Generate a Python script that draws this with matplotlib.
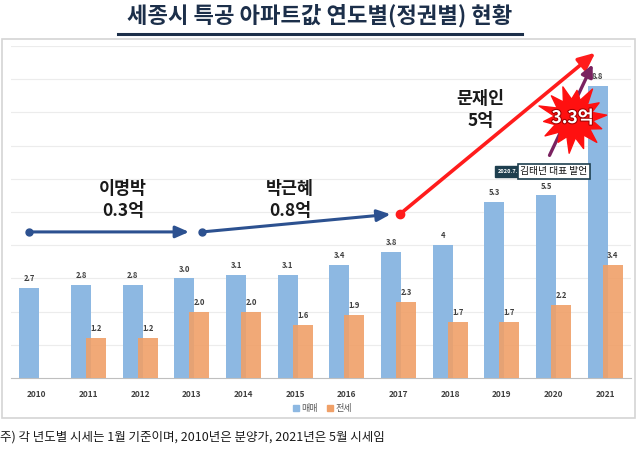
import numpy as np
import matplotlib
matplotlib.use("Agg")
import matplotlib.pyplot as plt
from matplotlib.patches import Rectangle
from matplotlib.lines import Line2D
from matplotlib.path import Path
import matplotlib.patheffects as pe

plt.rcParams['font.family'] = ['Noto Sans CJK KR', 'DejaVu Sans']

# data
years = ["2010", "2011", "2012", "2013", "2014", "2015",
         "2016", "2017", "2018", "2019", "2020", "2021"]
sale = [2.7, 2.8, 2.8, 3.0, 3.1, 3.1, 3.4, 3.8, 4.0, 5.3, 5.5, 8.8]
sale_labels = ["2.7", "2.8", "2.8", "3.0", "3.1", "3.1", "3.4", "3.8", "4", "5.3", "5.5", "8.8"]
jeonse = [np.nan, 1.2, 1.2, 2.0, 2.0, 1.6, 1.9, 2.3, 1.7, 1.7, 2.2, 3.4]
jeonse_labels = ["", "1.2", "1.2", "2.0", "2.0", "1.6", "1.9", "2.3", "1.7", "1.7", "2.2", "3.4"]

blue = '#8db8e2'
orange = '#f0a068'
label_col = '#404040'

fig = plt.figure(figsize=(6.39, 4.53), dpi=100)
fig.patch.set_facecolor('white')

# outer chart frame
fig.add_artist(Rectangle((2 / 639, 1 - 418 / 453), 633 / 639, 379 / 453,
                         transform=fig.transFigure, fill=False,
                         edgecolor='#d4d4d4', lw=1.2, zorder=0))

ax = fig.add_axes([11 / 639, 1 - 378 / 453, 620 / 639, 332 / 453])
x = np.arange(len(years))
w = 0.39
off = 0.145
ax.bar(x - off, sale, w, color=blue, zorder=2)
ax.bar(x + off, jeonse, w, color=orange, alpha=0.9, zorder=3)

for i in range(len(years)):
    ax.annotate(sale_labels[i], (x[i] - off, sale[i]), xytext=(0, 3.5),
                textcoords='offset points', ha='center', va='bottom',
                fontsize=5.5, fontweight='bold', color=label_col)
    if jeonse_labels[i]:
        ax.annotate(jeonse_labels[i], (x[i] + off, jeonse[i]), xytext=(0, 3.5),
                    textcoords='offset points', ha='center', va='bottom',
                    fontsize=5.5, fontweight='bold', color=label_col)

ax.set_xlim(-0.5, 11.5)
ax.set_ylim(0, 10)
ax.set_yticks(np.arange(1, 11))
ax.yaxis.grid(True, color='#ececec', lw=0.8, zorder=0)
ax.set_axisbelow(True)
ax.tick_params(left=False, labelleft=False, bottom=False, pad=5)
ax.set_xticks(x)
ax.set_xticklabels(years, fontsize=6, fontweight='bold', color=label_col)
for s in ['top', 'right', 'left']:
    ax.spines[s].set_visible(False)
ax.spines['bottom'].set_color('#bfbfbf')

# regime arrows
navy = '#2c5190'
ax.annotate('', xy=(3.0, 4.40), xytext=(-0.155, 4.40),
            arrowprops=dict(arrowstyle='-|>,head_length=0.8,head_width=0.35', color=navy, lw=2.2), zorder=5)
ax.plot([-0.155], [4.40], 'o', color=navy, ms=5, zorder=5)
ax.annotate('', xy=(6.9, 4.94), xytext=(3.2, 4.40),
            arrowprops=dict(arrowstyle='-|>,head_length=0.8,head_width=0.35', color=navy, lw=2.2), zorder=5)
ax.plot([3.2], [4.40], 'o', color=navy, ms=5, zorder=5)

ax.annotate('', xy=(10.85, 9.85), xytext=(7.03, 4.94),
            arrowprops=dict(arrowstyle='-|>,head_length=1.0,head_width=0.45', color='#ff1c1c', lw=2.6), zorder=5)
ax.plot([7.03], [4.94], 'o', color='#ff1c1c', ms=6, zorder=6)

ax.annotate('', xy=(10.78, 9.52), xytext=(9.9, 6.63),
            arrowprops=dict(arrowstyle='-|>,head_length=0.7,head_width=0.35', color='#7a2260', lw=2.4), zorder=5)

ax.text(1.67, 5.36, "이명박\n0.3억", ha='center', va='center', fontsize=12.5,
        fontweight='bold', linespacing=1.3, color='#1a1a1a', zorder=6)
ax.text(4.9, 5.36, "박근혜\n0.8억", ha='center', va='center', fontsize=12.5,
        fontweight='bold', linespacing=1.3, color='#1a1a1a', zorder=6)
ax.text(8.59, 8.07, "문재인\n5억", ha='center', va='center', fontsize=12.5,
        fontweight='bold', linespacing=1.3, color='#1a1a1a', zorder=6)

# starburst
ang = np.linspace(0, 2 * np.pi, 29)[:-1] + 0.1
rad = np.where(np.arange(28) % 2 == 0, 1.0, 0.58)
rad = rad * np.array([1.0, 1, 0.9, 1, 1.05, 1, 0.85, 1, 1.0, 1, 0.95, 1, 1.1, 1,
                      0.9, 1, 1.0, 1, 0.85, 1, 1.05, 1, 0.95, 1, 1.0, 1, 0.9, 1])
verts = np.column_stack([rad * np.cos(ang), rad * np.sin(ang)])
verts = np.vstack([verts, verts[:1]])
burst = Path(verts, closed=True)
ax.plot([10.37], [7.83], marker=burst, ms=50, color='#ff1010',
        markeredgecolor='#ff1010', zorder=7)
ax.text(10.37, 7.83, "3.3억", ha='center', va='center', fontsize=12.5,
        fontweight='bold', color='white', zorder=8,
        path_effects=[pe.withStroke(linewidth=1.5, foreground='#a00000')])

# quote label
ax.text(9.32, 6.23, "2020.7.", ha='right', va='center', fontsize=4, fontweight='bold',
        color='white', zorder=8,
        bbox=dict(boxstyle='square,pad=0.55', fc='#1e3f4f', ec='#1e3f4f'))
ax.text(9.36, 6.23, "김태년 대표 발언", ha='left', va='center', fontsize=7,
        color='#111111', zorder=8,
        bbox=dict(boxstyle='square,pad=0.25', fc='white', ec='#1e3f4f', lw=1.2))

# legend
handles = [Line2D([], [], marker='s', ls='', color=blue, ms=4),
           Line2D([], [], marker='s', ls='', color=orange, ms=4)]
fig.legend(handles, ["매매", "전세"], loc='center', ncol=2,
           bbox_to_anchor=(322 / 639, 1 - 409 / 453), frameon=False,
           fontsize=6.5, handlelength=0.8, handletextpad=0.2,
           columnspacing=0.9, labelcolor='#595959')

# title
fig.text(0.5, 1 - 16 / 453, "세종시 특공 아파트값 연도별(정권별) 현황", ha='center',
         va='center', fontsize=16, fontweight='bold', color='#1c2f4a')
fig.add_artist(Line2D([118 / 639, 522 / 639], [1 - 34 / 453, 1 - 34 / 453],
                      transform=fig.transFigure, color='#1c2f4a', lw=2.2))

# footnote
fig.text(0.0, 1 - 437 / 453, "주) 각 년도별 시세는 1월 기준이며, 2010년은 분양가, 2021년은 5월 시세임",
         ha='left', va='center', fontsize=9, color='#1a1a1a')

fig.savefig("out.png", dpi=100)
